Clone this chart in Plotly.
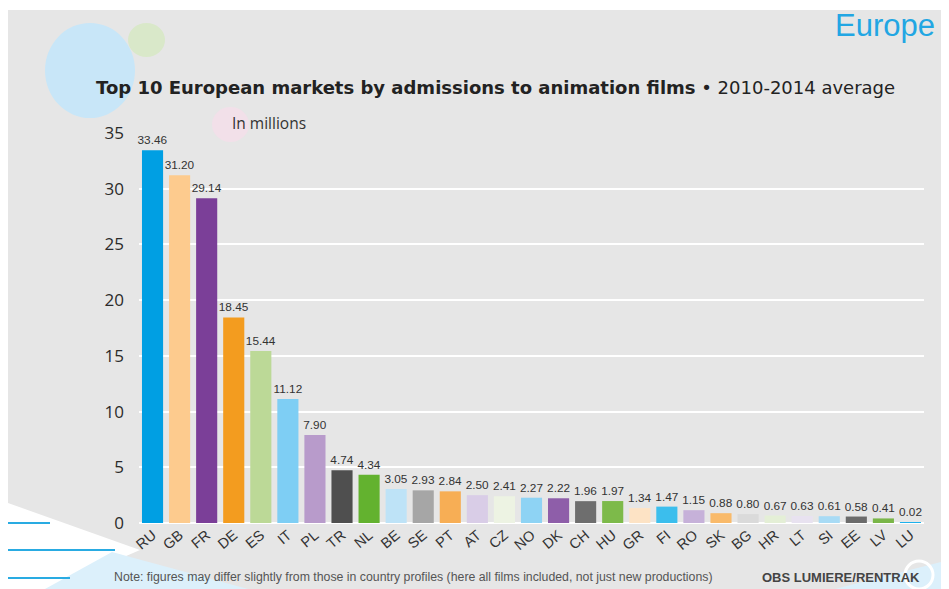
import plotly.graph_objects as go

countries = ["RU", "GB", "FR", "DE", "ES", "IT", "PL", "TR", "NL", "BE", "SE", "PT", "AT", "CZ",
             "NO", "DK", "CH", "HU", "GR", "FI", "RO", "SK", "BG", "HR", "LT", "SI", "EE", "LV", "LU"]
admissions = [33.46, 31.20, 29.14, 18.45, 15.44, 11.12, 7.90, 4.74, 4.34, 3.05, 2.93, 2.84, 2.50, 2.41,
              2.27, 2.22, 1.96, 1.97, 1.34, 1.47, 1.15, 0.88, 0.80, 0.67, 0.63, 0.61, 0.58, 0.41, 0.02]
bar_colors = ["#009fe3", "#fdcb8e", "#7b3f98", "#f39c1f", "#bcd997", "#7ecef4", "#b89bcb", "#4f4f4f",
              "#63b22f", "#bee3f7", "#a6a6a6", "#f7ae55", "#d9cde7", "#edf3e3", "#8ed3f4", "#8e5ea9",
              "#6e6e6e", "#7dba4a", "#fde3c5", "#3bbeed", "#c6b1d9", "#f9ba6a", "#dadada", "#e4efd6",
              "#e8e2f0", "#a8dbf5", "#6b6b6b", "#7ab648", "#1eb1ec"]
y_ticks = [0, 5, 10, 15, 20, 25, 30, 35]

# page offset of the figure inside the browser (body margin)
OX, OY = 8, 8
W, H = 949 - OX, 589 - OY
# plot area in screen pixels
L, R, T, B = 139, 924, 133, 523
PW, PH = R - L, B - T


def px(x):
    return (x - L) / PW


def py(y):
    return (B - y) / PH


def path(points):
    return "M " + " L ".join(f"{px(x):.5f},{py(y):.5f}" for x, y in points) + " Z"


fig = go.Figure()
fig.add_trace(go.Bar(
    x=countries, y=admissions,
    marker=dict(color=bar_colors, line=dict(width=0)),
    text=[f"{v:.2f}" for v in admissions],
    textposition="outside",
    textfont=dict(size=11.8, color="#333333", family="Liberation Sans, Arial, sans-serif"),
    constraintext="none",
    cliponaxis=False,
    hoverinfo="skip",
))

shapes = []
# gray background panel
shapes.append(dict(type="rect", xref="paper", yref="paper", x0=px(8), x1=px(960), y0=py(10), y1=py(600),
                   fillcolor="#e6e6e6", line=dict(width=0), layer="below"))
# decorative circles
shapes.append(dict(type="circle", xref="paper", yref="paper", x0=px(45), x1=px(135), y0=py(23), y1=py(118),
                   fillcolor="#c8e6f8", line=dict(width=0), layer="below"))
shapes.append(dict(type="circle", xref="paper", yref="paper", x0=px(128), x1=px(165), y0=py(23), y1=py(57),
                   fillcolor="#d9e8c9", line=dict(width=0), layer="below"))
shapes.append(dict(type="circle", xref="paper", yref="paper", x0=px(212), x1=px(249), y0=py(107), y1=py(142),
                   fillcolor="#f2e0e9", line=dict(width=0), layer="below"))
# bottom-left decorations
shapes.append(dict(type="path", xref="paper", yref="paper",
                   path=path([(8, 503), (140, 550), (50, 589), (8, 589)]),
                   fillcolor="#ffffff", line=dict(width=0), layer="below"))
shapes.append(dict(type="path", xref="paper", yref="paper",
                   path=path([(45, 589), (112, 552), (248, 589)]),
                   fillcolor="#dcf0fb", line=dict(width=0), layer="below"))
for (x1, y) in [(50, 523), (115, 550), (70, 578)]:
    shapes.append(dict(type="line", xref="paper", yref="paper", x0=px(8), x1=px(x1), y0=py(y), y1=py(y),
                       line=dict(color="#29abe2", width=2), layer="below"))
# bottom-right decorations
shapes.append(dict(type="path", xref="paper", yref="paper",
                   path=path([(835, 589), (949, 560), (949, 589)]),
                   fillcolor="#dcf0fb", line=dict(width=0), layer="below"))
shapes.append(dict(type="circle", xref="paper", yref="paper", x0=px(905), x1=px(933), y0=py(561), y1=py(589),
                   fillcolor="rgba(0,0,0,0)", line=dict(color="#ffffff", width=3), layer="below"))

annotations = [
    dict(text="Europe", x=px(937), y=py(25), xref="paper", yref="paper", xanchor="right", yanchor="middle",
         showarrow=False, font=dict(size=31, color="#22a6e3", family="Liberation Sans, Arial, sans-serif")),
    dict(text="<b>Top 10 European markets by admissions to animation films</b> \u2022 2010-2014 average",
         x=px(94), y=py(88), xref="paper", yref="paper", xanchor="left", yanchor="middle", showarrow=False,
         font=dict(size=18, color="#222222", family="DejaVu Sans, sans-serif")),
    dict(text="In millions", x=px(230), y=py(123), xref="paper", yref="paper", xanchor="left", yanchor="middle",
         showarrow=False, font=dict(size=15.5, color="#333333", family="Open Sans, sans-serif")),
    dict(text="Note: figures may differ slightly from those in country profiles "
              "(here all films included, not just new productions)",
         x=px(112), y=py(577), xref="paper", yref="paper", xanchor="left", yanchor="middle", showarrow=False,
         font=dict(size=12.3, color="#555555", family="Liberation Sans, Arial, sans-serif")),
    dict(text="<b>OBS LUMIERE/RENTRAK</b>", x=px(760), y=py(577), xref="paper", yref="paper",
         xanchor="left", yanchor="middle", showarrow=False,
         font=dict(size=13, color="#444444", family="Liberation Sans, Arial, sans-serif")),
]

fig.update_layout(
    width=W, height=H,
    margin=dict(l=L - OX, r=949 - R, t=T - OY, b=589 - B, pad=0),
    paper_bgcolor="#ffffff",
    plot_bgcolor="rgba(0,0,0,0)",
    showlegend=False,
    bargap=0.22,
    shapes=shapes,
    annotations=annotations,
    xaxis=dict(
        categoryorder="array", categoryarray=countries,
        tickangle=-40, ticks="", showgrid=False, showline=False, zeroline=False,
        tickfont=dict(size=14.5, color="#333333", family="Liberation Sans, Arial, sans-serif"),
    ),
    yaxis=dict(
        range=[0, 35], tickvals=y_ticks, ticks="", showline=False,
        showgrid=True, gridcolor="#ffffff", gridwidth=1.5,
        zeroline=True, zerolinecolor="#ffffff", zerolinewidth=1.5,
        ticklabelstandoff=14,
        tickfont=dict(size=17, color="#2b2b2b", family="Open Sans, sans-serif"),
    ),
)

fig.write_html("out.html")
